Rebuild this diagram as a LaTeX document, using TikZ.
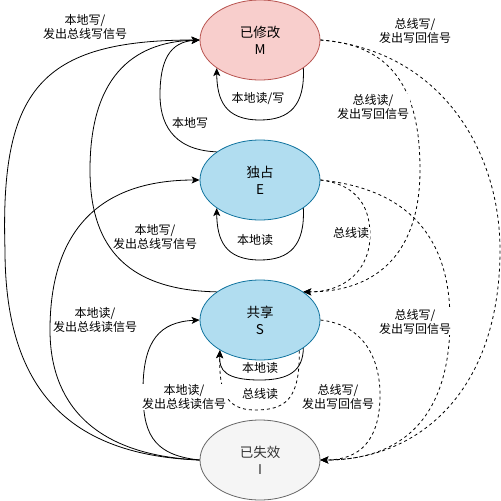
\documentclass[tikz,border=0pt]{standalone}
\usepackage{fontspec}
\setmainfont{Noto Sans CJK SC}
\usetikzlibrary{arrows.meta,shapes.geometric}
\definecolor{mfill}{HTML}{F8CECC}
\definecolor{mline}{HTML}{B85450}
\definecolor{bfill}{HTML}{B1DDF0}
\definecolor{bline}{HTML}{10739E}
\definecolor{ifill}{HTML}{F5F5F5}
\definecolor{iline}{HTML}{666666}
\definecolor{itext}{HTML}{333333}
\begin{document}
\begin{tikzpicture}[x=1pt,y=-1pt,
  state/.style={ellipse, draw, minimum width=120pt, minimum height=80pt, inner sep=0pt,
    font=\fontsize{13.5}{17}\selectfont, align=center, line width=0.8pt},
  lbl/.style={font=\fontsize{12}{14}\selectfont, align=center, fill=white, inner sep=0.5pt},
  conn/.style={draw=black, line width=0.8pt, -{Stealth[length=8pt,width=7pt,inset=2pt]}},
  dconn/.style={conn, dash pattern=on 3pt off 3pt}]
\useasboundingbox (0,0) rectangle (501,501);
\node[state, fill=mfill, draw=mline] (M) at (260,40) {已修改\\M};
\node[state, fill=bfill, draw=bline] (E) at (260,180) {独占\\E};
\node[state, fill=bfill, draw=bline] (S) at (260,320) {共享\\S};
\node[state, fill=ifill, draw=iline, text=itext] (I) at (260,460) {已失效\\I};

% solid transitions
\draw[conn] (I.west) .. controls (60,455) and (5,380) .. (5,250) .. controls (0,90) and (40,40) .. (M.west);
\draw[conn] (S.147) .. controls (120,290) and (90,240) .. (90,170) .. controls (90,80) and (130,42) .. (M.west);
\draw[conn] (E.147) .. controls (170,150) and (160,120) .. (160,95) .. controls (160,60) and (170,42) .. (M.west);
\draw[conn] (I.west) .. controls (90,455) and (50,400) .. (50,330) .. controls (50,230) and (100,180) .. (E.west);
\draw[conn] (I.west) .. controls (150,455) and (143,430) .. (143,390) .. controls (143,340) and (160,322) .. (S.west);
% self loops
\draw[conn] (M.327) .. controls (305,105) and (290,120) .. (260,120) .. controls (225,120) and (217,100) .. (M.213);
\draw[conn] (E.327) .. controls (305,245) and (290,260) .. (260,260) .. controls (225,260) and (217,240) .. (E.213);
\draw[conn] (S.327) .. controls (303,370) and (290,380) .. (260,380) .. controls (225,380) and (219,370) .. (S.217);
\draw[dconn] (S.322) .. controls (300,400) and (285,410) .. (255,410) .. controls (225,410) and (219,390) .. (S.217);
% dashed transitions
\draw[dconn] (M.east) .. controls (400,45) and (420,100) .. (420,170) .. controls (420,250) and (380,292) .. (S.33);
\draw[dconn] (M.east) .. controls (440,50) and (500,150) .. (500,250) .. controls (500,390) and (420,460) .. (I.east);
\draw[dconn] (E.east) .. controls (360,185) and (370,210) .. (370,235) .. controls (370,270) and (345,292) .. (S.33);
\draw[dconn] (E.east) .. controls (420,190) and (450,250) .. (450,320) .. controls (450,420) and (400,460) .. (I.east);
\draw[dconn] (S.east) .. controls (365,325) and (380,360) .. (380,395) .. controls (380,440) and (360,460) .. (I.east);

% labels
\node[lbl] (l1) at (85,27) {本地写/\\发出总线写信号};
\node[lbl] (l2) at (190,123) {本地写};
\node[lbl] (l3) at (258,99) {本地读/写};
\node[lbl] (l4) at (415,31) {总线写/\\发出写回信号};
\node[lbl] (l5) at (373,107) {总线读/\\发出写回信号};
\node[lbl] (l6) at (255,240) {本地读};
\node[lbl] (l7) at (351,233) {总线读};
\node[lbl] (l8) at (155,237) {本地写/\\发出总线写信号};
\node[lbl] (l9) at (95,320) {本地读/\\发出总线读信号};
\node[lbl] (l10) at (415,322) {总线写/\\发出写回信号};
\node[lbl] (l11) at (260,368) {本地读};
\node[lbl] (l12) at (260,394) {总线读};
\node[lbl] (l13) at (184,397) {本地读/\\发出总线读信号};
\node[lbl] (l14) at (338,397) {总线写/\\发出写回信号};
\end{tikzpicture}
\end{document}
